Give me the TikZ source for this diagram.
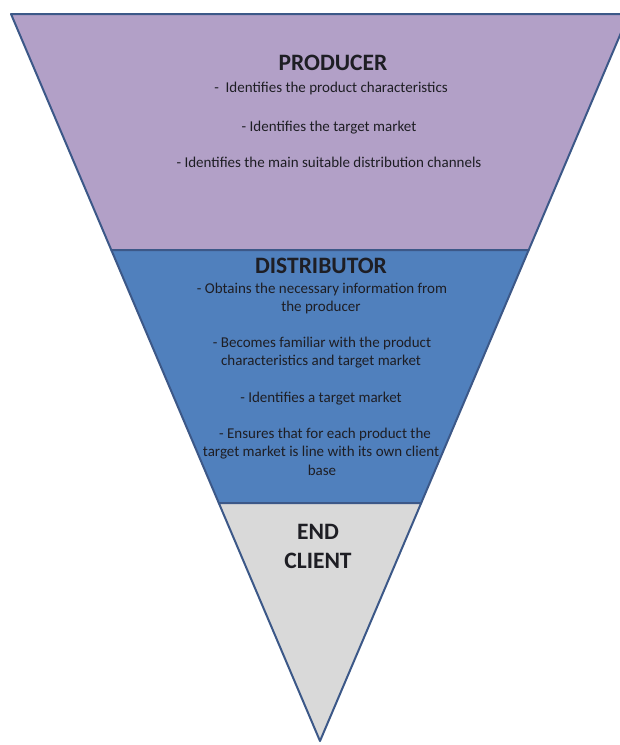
\documentclass[tikz,border=0pt]{standalone}
\usepackage{fontspec}
\setmainfont{Carlito}
\definecolor{purplefill}{RGB}{178,160,199}
\definecolor{bluefill}{RGB}{80,128,189}
\definecolor{grayfill}{RGB}{217,217,217}
\definecolor{outline}{RGB}{60,88,136}
\definecolor{txt}{RGB}{30,30,36}
\tikzset{
  band/.style={draw=outline, line width=2pt, line join=round},
  title/.style={font=\fontsize{23.5}{28}\selectfont\bfseries, text=txt, anchor=base, inner sep=0pt},
  body/.style={font=\fontsize{15}{18}\selectfont, text=txt, anchor=base, inner sep=0pt}
}
\begin{document}
\begin{tikzpicture}[x=1pt,y=-1pt]
\useasboundingbox (0,0) rectangle (620,745);
\clip (0,0) rectangle (620,745);
\fill[white] (0,0) rectangle (620,745);
% corners of the bands
\coordinate (tl) at (11,14);
\coordinate (tr) at (629,14);
\coordinate (ml) at (111.3,250);
\coordinate (mr) at (528.7,250);
\coordinate (ll) at (218.8,503);
\coordinate (lr) at (421.2,503);
\coordinate (apex) at (320,741);
% bands
\filldraw[band, fill=purplefill] (tl) -- (tr) -- (mr) -- (ml) -- cycle;
\filldraw[band, fill=bluefill] (ml) -- (mr) -- (lr) -- (ll) -- cycle;
\filldraw[band, fill=grayfill] (ll) -- (lr) -- (apex) -- cycle;
% producer
\node[title] (prod) at (333,70) {PRODUCER};
\node[body] (p1) at (331,92) {-\ \ Identifies the product characteristics};
\node[body] (p2) at (329,131) {- Identifies the target market};
\node[body] (p3) at (329,167) {- Identifies the main suitable distribution channels};
% distributor
\node[title] (dist) at (321,273) {DISTRIBUTOR};
\node[body] (d1) at (322,293) {- Obtains the necessary information from};
\node[body] (d2) at (321,311) {the producer};
\node[body] (d3) at (322,347) {- Becomes familiar with the product};
\node[body] (d4) at (321,365) {characteristics and target market};
\node[body] (d5) at (321,402) {- Identifies a target market};
\node[body] (d6) at (325,438) {- Ensures that for each product the};
\node[body] (d7) at (321,456.5) {target market is line with its own client};
\node[body] (d8) at (322,475) {base};
% end client
\node[title] (end) at (318,539) {END};
\node[title] (client) at (318,568) {CLIENT};
\end{tikzpicture}
\end{document}
